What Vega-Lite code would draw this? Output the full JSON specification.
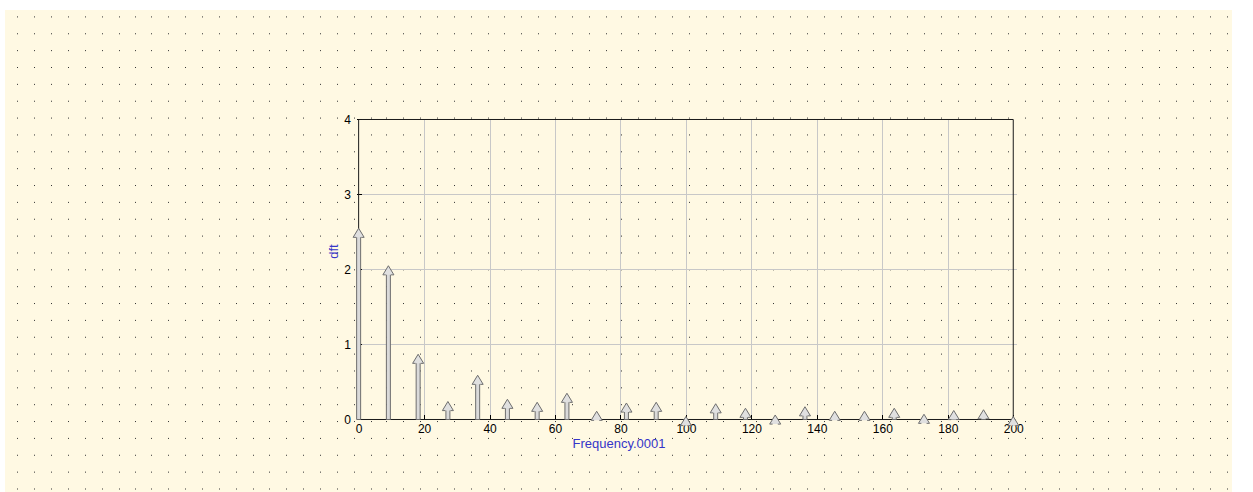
{
  "$schema": "https://vega.github.io/schema/vega-lite/v6.json",
  "width": 1227,
  "height": 482,
  "autosize": "none",
  "padding": {"left": 5, "top": 10, "right": 21, "bottom": 0},
  "background": "#ffffff",
  "config": {
    "view": {"fill": "#fff9e3", "stroke": null},
    "axis": {
      "labelFont": "Liberation Sans",
      "titleFont": "Liberation Sans",
      "labelColor": "#000000",
      "labelFontSize": 12,
      "labelFlush": false,
      "labelOverlap": false
    }
  },
  "data": {
    "values": [
      {"frequency": 0, "dft": 2.55},
      {"frequency": 9.0909, "dft": 2.05},
      {"frequency": 18.1818, "dft": 0.87},
      {"frequency": 27.2727, "dft": 0.24},
      {"frequency": 36.3636, "dft": 0.59},
      {"frequency": 45.4545, "dft": 0.27},
      {"frequency": 54.5455, "dft": 0.23},
      {"frequency": 63.6364, "dft": 0.35},
      {"frequency": 72.7273, "dft": 0.11},
      {"frequency": 81.8182, "dft": 0.22},
      {"frequency": 90.9091, "dft": 0.23},
      {"frequency": 100, "dft": 0.04},
      {"frequency": 109.0909, "dft": 0.21},
      {"frequency": 118.1818, "dft": 0.15},
      {"frequency": 127.2727, "dft": 0.06},
      {"frequency": 136.3636, "dft": 0.17},
      {"frequency": 145.4545, "dft": 0.11},
      {"frequency": 154.5455, "dft": 0.11},
      {"frequency": 163.6364, "dft": 0.15},
      {"frequency": 172.7273, "dft": 0.07},
      {"frequency": 181.8182, "dft": 0.12},
      {"frequency": 190.9091, "dft": 0.13},
      {"frequency": 200, "dft": 0.04}
    ]
  },
  "resolve": {"axis": {"x": "independent", "y": "independent"}},
  "layer": [
    {
      "data": {"values": [{}]},
      "mark": {"type": "rect", "filled": false, "stroke": "#1a1a1a", "strokeWidth": 1},
      "encoding": {
        "x": {
          "datum": 0,
          "type": "quantitative",
          "scale": {"domain": [-106.515, 265.303], "nice": false, "zero": false},
          "axis": {
            "orient": "top",
            "values": [-104.242, -99.091, -93.939, -88.788, -83.636, -78.485, -73.333, -68.182, -63.333, -58.182, -53.03, -47.879, -42.727, -37.576, -32.424, -27.273, -22.121, -16.97, -11.818, -6.667, -1.515, 3.636, 8.485, 13.636, 18.788, 23.939, 29.091, 34.242, 39.394, 44.545, 49.697, 54.848, 60, 65.152, 70.303, 75.455, 80.303, 85.455, 90.606, 95.758, 100.909, 106.061, 111.212, 116.364, 121.515, 126.667, 131.818, 136.97, 142.121, 147.273, 152.424, 157.273, 162.424, 167.576, 172.727, 177.879, 183.03, 188.182, 193.333, 198.485, 203.636, 208.788, 213.939, 219.091, 224.242, 229.091, 234.242, 239.394, 244.545, 249.697, 254.848, 260, 265.152],
            "grid": true,
            "gridColor": "#333333",
            "gridOpacity": 1,
            "gridWidth": 1,
            "gridDash": [1, 15.86],
            "gridDashOffset": 13.86,
            "ticks": false,
            "labels": false,
            "domain": false,
            "title": null
          }
        },
        "x2": {"datum": 200},
        "y": {
          "datum": 0,
          "type": "quantitative",
          "scale": {"domain": [-0.96667, 5.46], "nice": false, "zero": false},
          "axis": {
            "orient": "left",
            "offset": -1011.5,
            "values": [1, 2, 3],
            "grid": false,
            "ticks": true,
            "tickSize": 660,
            "tickColor": "#c8c8c8",
            "tickWidth": 1,
            "labels": false,
            "domain": false,
            "title": null
          }
        },
        "y2": {"datum": 4}
      }
    },
    {
      "mark": {"type": "bar", "size": 4, "fill": "#dadada", "stroke": "#6e6e6e", "strokeWidth": 1, "yOffset": 4},
      "encoding": {
        "x": {
          "field": "frequency",
          "type": "quantitative",
          "scale": {"domain": [-106.515, 265.303], "nice": false, "zero": false},
          "axis": {
            "orient": "bottom",
            "offset": -372.5,
            "values": [20, 40, 60, 80, 100, 120, 140, 160, 180],
            "grid": false,
            "ticks": true,
            "tickSize": 300,
            "tickColor": "#c8c8c8",
            "tickWidth": 1,
            "labels": false,
            "domain": false,
            "title": null
          }
        },
        "y": {
          "field": "dft",
          "type": "quantitative",
          "scale": {"domain": [-0.96667, 5.46], "nice": false, "zero": false},
          "axis": null
        },
        "y2": {"datum": 0}
      }
    },
    {
      "mark": {
        "type": "point",
        "shape": "M-0.4,1.4L-0.85,1.4L0,0L0.85,1.4L0.4,1.4",
        "size": 169,
        "filled": true,
        "fill": "#e0e0e0",
        "stroke": "#6e6e6e",
        "strokeWidth": 1,
        "opacity": 1
      },
      "encoding": {
        "x": {
          "field": "frequency",
          "type": "quantitative",
          "scale": {"domain": [-106.515, 265.303], "nice": false, "zero": false},
          "axis": {
            "orient": "bottom",
            "offset": -72.5,
            "values": [0, 20, 40, 60, 80, 100, 120, 140, 160, 180, 200],
            "grid": false,
            "domain": false,
            "ticks": true,
            "tickSize": -5,
            "tickColor": "#000000",
            "tickWidth": 1,
            "labelPadding": 9,
            "title": "Frequency.0001",
            "titleColor": "#3535c8",
            "titleFontSize": 13,
            "titleFontWeight": "normal",
            "titlePadding": 3
          }
        },
        "y": {
          "field": "dft",
          "type": "quantitative",
          "scale": {"domain": [-0.96667, 5.46], "nice": false, "zero": false},
          "axis": {
            "orient": "left",
            "offset": -351.5,
            "values": [0, 1, 2, 3, 4],
            "grid": false,
            "domain": false,
            "ticks": true,
            "tickSize": -5,
            "tickColor": "#000000",
            "tickWidth": 1,
            "labelPadding": 11,
            "title": "dft",
            "titleColor": "#3535c8",
            "titleFontSize": 13,
            "titleFontWeight": "normal",
            "titlePadding": 3
          }
        }
      }
    }
  ]
}
